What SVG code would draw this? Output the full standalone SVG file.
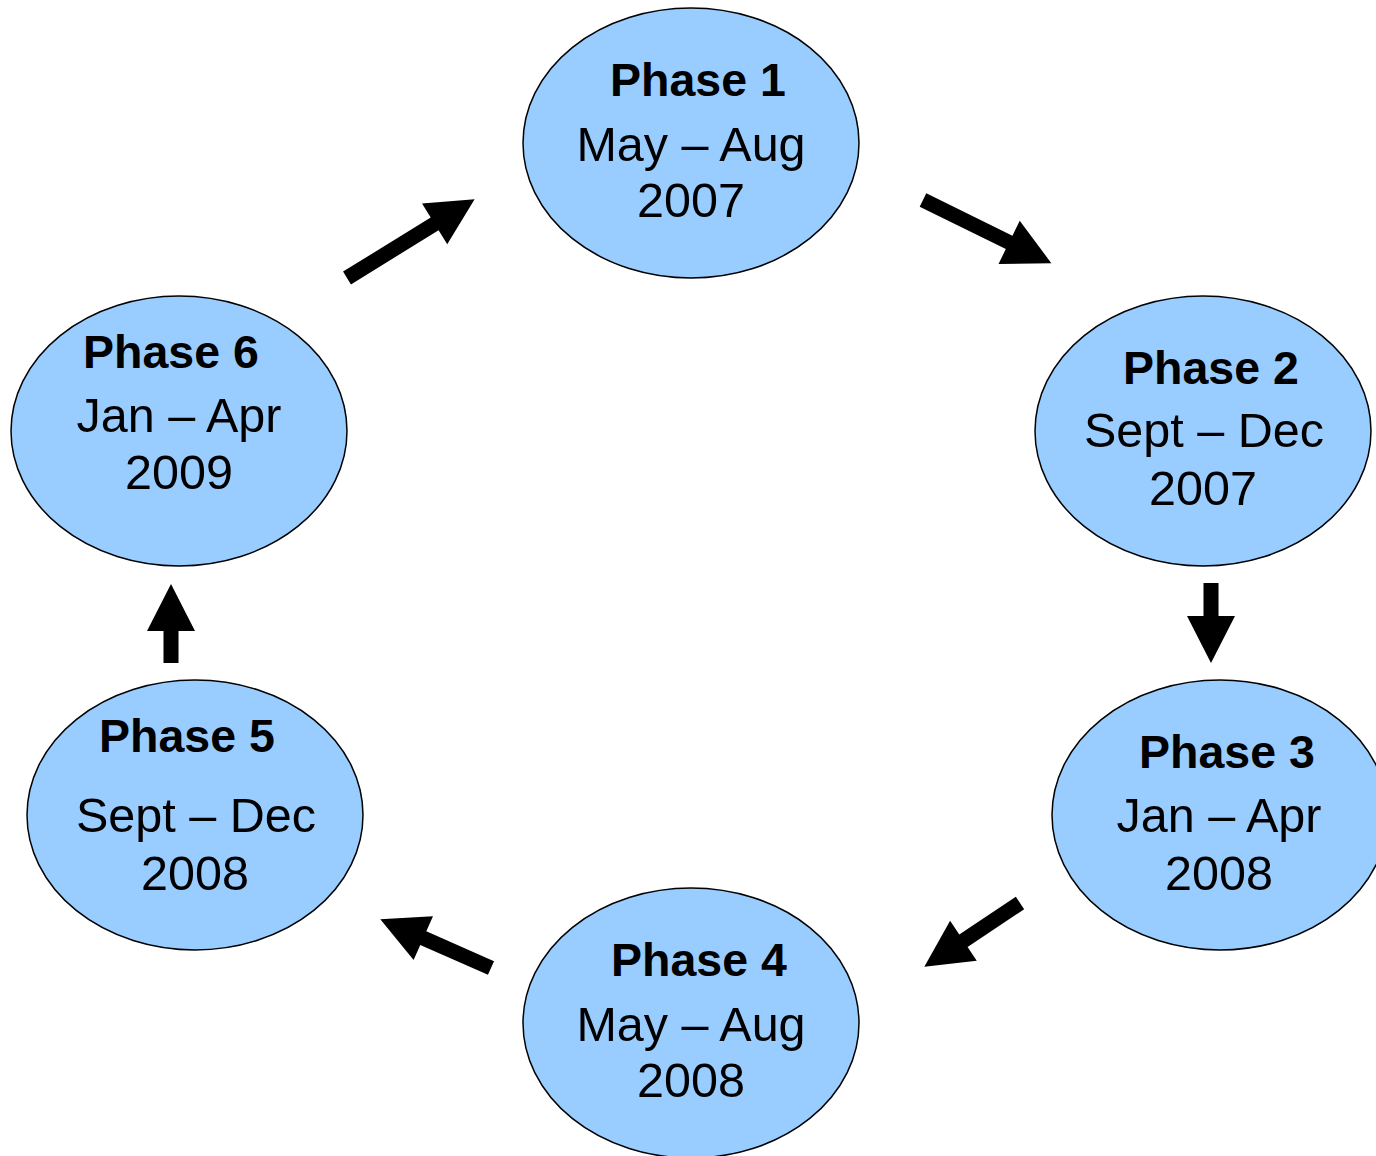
<svg xmlns="http://www.w3.org/2000/svg" width="1376" height="1156" viewBox="0 0 1376 1156">
<style>
.node ellipse{fill:#99CCFF;stroke:#000;stroke-width:1.5}
text{font-family:"Liberation Sans",Arial,sans-serif;font-size:48.5px;fill:#000;text-anchor:middle}
.t{font-weight:bold;font-size:46.5px}
.arr{fill:#000}
</style>
<rect width="1376" height="1156" fill="#fff"/>
<g id="connectors">
<polygon class="arr" transform="translate(347,278) rotate(-31.7)" points="0,-7.5 103,-7.5 103,-24 150,0 103,24 103,7.5 0,7.5"/>
<polygon class="arr" transform="translate(923,200) rotate(26.2)" points="0,-7.5 96,-7.5 96,-24 143,0 96,24 96,7.5 0,7.5"/>
<polygon class="arr" transform="translate(1211,583) rotate(90)" points="0,-7.5 33,-7.5 33,-24 80,0 33,24 33,7.5 0,7.5"/>
<polygon class="arr" transform="translate(1020,903) rotate(146.3)" points="0,-7.5 68,-7.5 68,-24 115,0 68,24 68,7.5 0,7.5"/>
<polygon class="arr" transform="translate(491,968) rotate(-156.2)" points="0,-7.5 74,-7.5 74,-24 121,0 74,24 74,7.5 0,7.5"/>
<polygon class="arr" transform="translate(171,663) rotate(-90)" points="0,-7.5 32,-7.5 32,-24 79,0 32,24 32,7.5 0,7.5"/>
</g>
<g id="phase1" class="node">
<ellipse cx="691" cy="143" rx="168" ry="135"/>
<text class="t" x="698" y="96">Phase 1</text>
<text x="691" y="161">May – Aug</text>
<text x="691" y="217">2007</text>
</g>
<g id="phase2" class="node">
<ellipse cx="1203" cy="431" rx="168" ry="135"/>
<text class="t" x="1211" y="384">Phase 2</text>
<text x="1204" y="447">Sept – Dec</text>
<text x="1203" y="505">2007</text>
</g>
<g id="phase3" class="node">
<ellipse cx="1220" cy="815" rx="168" ry="135"/>
<text class="t" x="1227" y="768">Phase 3</text>
<text x="1219" y="832">Jan – Apr</text>
<text x="1219" y="890">2008</text>
</g>
<g id="phase4" class="node">
<ellipse cx="691" cy="1023" rx="168" ry="135"/>
<text class="t" x="699" y="976">Phase 4</text>
<text x="691" y="1041">May – Aug</text>
<text x="691" y="1097">2008</text>
</g>
<g id="phase5" class="node">
<ellipse cx="195" cy="815" rx="168" ry="135"/>
<text class="t" x="187" y="752">Phase 5</text>
<text x="196" y="832">Sept – Dec</text>
<text x="195" y="890">2008</text>
</g>
<g id="phase6" class="node">
<ellipse cx="179" cy="431" rx="168" ry="135"/>
<text class="t" x="171" y="368">Phase 6</text>
<text x="179" y="432">Jan – Apr</text>
<text x="179" y="489">2009</text>
</g>
</svg>
